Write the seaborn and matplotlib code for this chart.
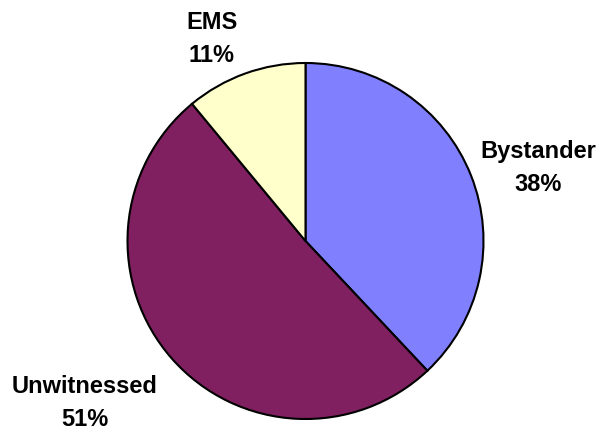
import matplotlib
matplotlib.use("Agg")
import matplotlib.pyplot as plt
import seaborn as sns

sns.set_theme(style="white")
plt.rcParams["font.family"] = ["Liberation Sans", "DejaVu Sans"]

# data
categories = ["Bystander", "Unwitnessed", "EMS"]
shares = [38, 51, 11]
colors = ["#8080FF", "#802060", "#FFFFCC"]

fig = plt.figure(figsize=(6.03, 4.32), dpi=100)
ax = fig.add_axes([0, 0, 1, 1])

ax.pie(shares, colors=colors, startangle=90, counterclock=False,
       radius=178, center=(0, 0),
       wedgeprops=dict(edgecolor="black", linewidth=1.5))

ax.set_xlim(-305.5, 297.5)
ax.set_ylim(-191, 241)
ax.set_aspect("equal")
ax.axis("off")

# label positions (pixel offsets from pie centre)
label_pos = {"Bystander": (232.5, 73), "Unwitnessed": (-220.5, -162), "EMS": (-93.5, 202)}
for cat, val in zip(categories, shares):
    x, y = label_pos[cat]
    ax.text(x, y, f"{cat}\n{val}%", ha="center", va="center",
            fontsize=17, fontweight="bold", linespacing=1.55, color="black")

fig.savefig("out.png", dpi=100)
